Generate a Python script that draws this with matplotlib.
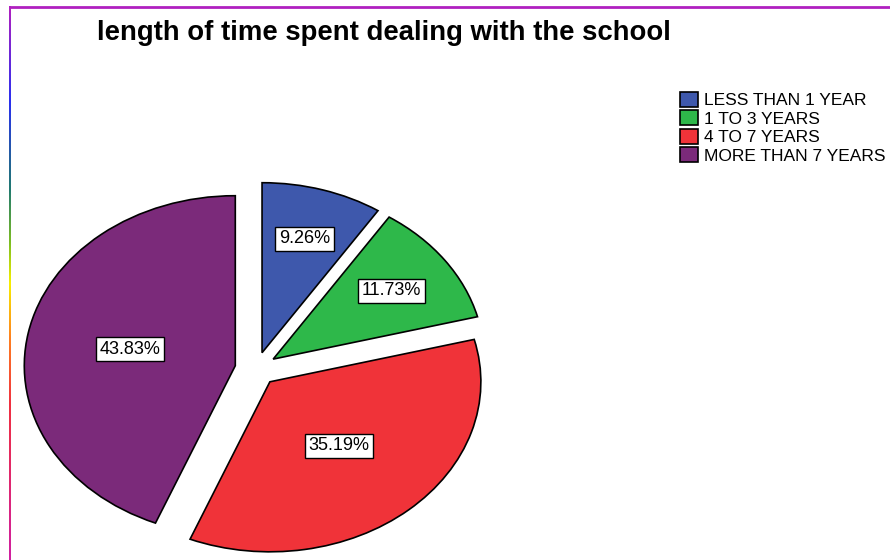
import numpy as np
import matplotlib
matplotlib.use('Agg')
import matplotlib.pyplot as plt
from matplotlib.colors import LinearSegmentedColormap

plt.rcParams['font.family'] = ['Liberation Sans', 'DejaVu Sans']

categories = ['LESS THAN 1 YEAR', '1 TO 3 YEARS', '4 TO 7 YEARS', 'MORE THAN 7 YEARS']
percents = [9.26, 11.73, 35.19, 43.83]
colors = ['#3e58ac', '#2eb84a', '#f03339', '#7b2a7a']
explode = [0.1, 0.1, 0.1, 0.1]
label_radius = [0.70, 0.69, 0.50, 0.51]
title = 'length of time spent dealing with the school'

W, H = 890, 560
fig = plt.figure(figsize=(W / 100, H / 100), dpi=100)

# pie axes: centre at (256, 369) px, radii 211 x 170 px
cx, cy, rx, ry = 256, 369, 211, 170
ax = fig.add_axes([(cx - rx) / W, (H - cy - ry) / H, 2 * rx / W, 2 * ry / H])
wedges, _ = ax.pie(percents, colors=colors, explode=explode, startangle=90,
                   counterclock=False, normalize=True,
                   wedgeprops=dict(edgecolor='black', linewidth=1.2))
ax.set_aspect('auto')
ax.set_xlim(-1, 1)
ax.set_ylim(-1, 1)
ax.axis('off')
for w in wedges:
    w.set_clip_on(False)

for w, p, e, r in zip(wedges, percents, explode, label_radius):
    ang = np.deg2rad((w.theta1 + w.theta2) / 2)
    x = (e + r) * np.cos(ang)
    y = (e + r) * np.sin(ang)
    ax.text(x, y, '%.2f%%' % p, ha='center', va='center', fontsize=13,
            bbox=dict(boxstyle='square,pad=0.2', facecolor='white',
                      edgecolor='black', linewidth=1), clip_on=False)

fig.text(384 / W, 1 - 33 / H, title, ha='center', va='center',
         fontsize=19.8, fontweight='bold')

leg = fig.legend(wedges, categories, loc='upper left',
                 bbox_to_anchor=(680 / W, 1 - 92 / H), frameon=False,
                 fontsize=12.5, handlelength=1.05, handleheight=0.95,
                 handletextpad=0.35, labelspacing=0.11, borderpad=0,
                 borderaxespad=0)

# frame: purple top, rainbow left edge
fig.add_artist(plt.Line2D([10 / W, 1.0], [1 - 7 / H, 1 - 7 / H],
                          transform=fig.transFigure, color='#b020c0', lw=2))
cmap = LinearSegmentedColormap.from_list('edge', [
    (0.0, '#b020c0'), (0.17, '#2a30f0'), (0.33, '#207a70'),
    (0.43, '#80c020'), (0.50, '#f8f000'), (0.60, '#ff8020'),
    (0.72, '#f03040'), (1.0, '#d020a0')])
edge = fig.add_axes([9 / W, 0, 2 / W, (H - 6) / H])
edge.imshow(np.linspace(0, 1, 300).reshape(-1, 1), cmap=cmap, aspect='auto',
            interpolation='bilinear')
edge.axis('off')

fig.savefig('out.png', dpi=100)
